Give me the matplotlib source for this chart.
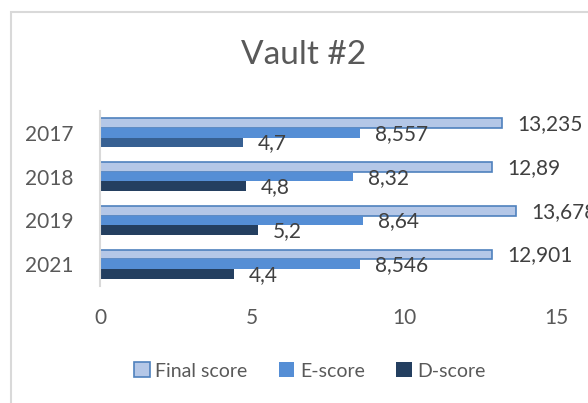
import matplotlib
matplotlib.use("Agg")
import matplotlib.pyplot as plt
from matplotlib.patches import Rectangle
import numpy as np

# data
years = ["2017", "2018", "2019", "2021"]
final_score = [13.235, 12.89, 13.678, 12.901]
e_score = [8.557, 8.32, 8.64, 8.546]
d_score = [4.7, 4.8, 5.2, 4.4]
x_ticks = [0, 5, 10, 15]


def fmt(v):
    # comma decimal separator like the original
    s = f"{v:.3f}".rstrip("0").rstrip(".")
    return s.replace(".", ",")


plt.rcParams["font.family"] = ["Lato", "DejaVu Sans"]
text_col = "#595959"

fig = plt.figure(figsize=(5.88, 4.03), dpi=100)
ax = fig.add_axes([100 / 588, 117 / 403, 456 / 588, 175 / 403])

y = np.arange(len(years))
h = 0.22
bars_f = ax.barh(y - h, final_score, height=h, color="#B4C7E7",
                 edgecolor="#4F81BD", linewidth=1.2, label="Final score")
bars_e = ax.barh(y, e_score, height=h, color="#558ED5", label="E-score")
bars_d = ax.barh(y + h, d_score, height=h, color="#243F60", label="D-score")

for bars, vals in [(bars_f, final_score), (bars_e, e_score), (bars_d, d_score)]:
    for b, v in zip(bars, vals):
        ax.annotate(fmt(v), (b.get_width(), b.get_y() + b.get_height() / 2),
                    xytext=(15, -1), textcoords="offset pixels",
                    ha="left", va="center", fontsize=15, color="#404040")

ax.set_xlim(0, 15)
ax.set_ylim(len(years) - 0.5, -0.5)
ax.set_xticks(x_ticks)
ax.set_xticklabels([str(t) for t in x_ticks])
ax.set_yticks(y)
ax.set_yticklabels(years)
ax.tick_params(axis="both", length=0, labelsize=15, labelcolor=text_col)
ax.tick_params(axis="y", pad=19)
ax.tick_params(axis="x", pad=16)
for side in ["top", "right", "bottom"]:
    ax.spines[side].set_visible(False)
ax.spines["left"].set_color("#D9D9D9")
ax.spines["left"].set_linewidth(1.5)

fig.text(304 / 588, 1 - 55 / 403, "Vault #2", ha="center", va="center",
         fontsize=24, color=text_col)

fig.legend(loc="center", bbox_to_anchor=(310 / 588, 1 - 371 / 403), ncol=3,
           frameon=False, fontsize=14, labelcolor=text_col,
           handlelength=0.8, handleheight=0.8, handletextpad=0.3,
           columnspacing=1.6)

# 2017 D-score bar is a lighter shade in the original (legend keeps dark)
bars_d[0].set_facecolor("#376092")

# chart border (cut off at right and bottom)
fig.patches.append(Rectangle((11 / 588, -0.1), 1.0, 1.1 - 12 / 403,
                             transform=fig.transFigure, fill=False,
                             edgecolor="#D9D9D9", linewidth=1.5))

fig.savefig("out.png", dpi=100)
